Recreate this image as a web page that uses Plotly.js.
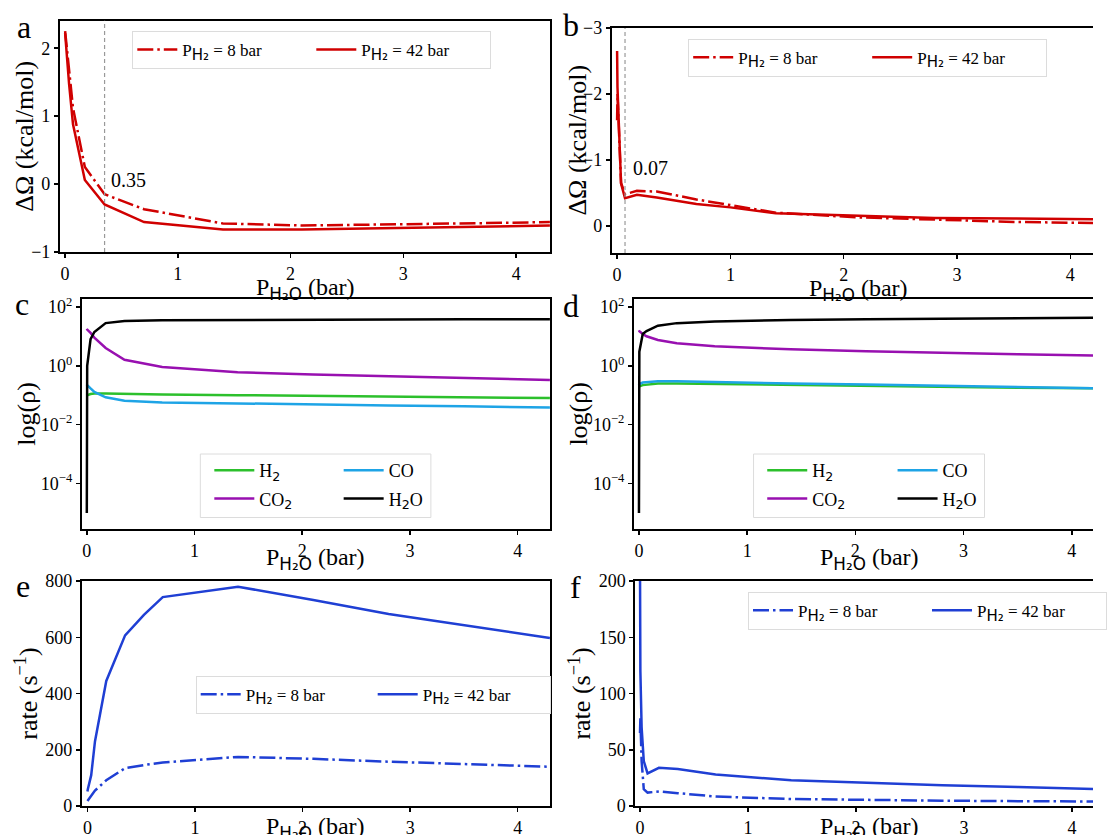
<!DOCTYPE html>
<html>
<head>
<meta charset="utf-8">
<script src="https://cdn.plot.ly/plotly-3.0.1.min.js"></script>
<style>html,body{margin:0;padding:0;background:#fff;}#chart{width:1107px;height:835px;}</style>
</head>
<body>
<div id="chart"></div>
<script>
// ---------- data ----------
// panel a : ΔΩ vs P_H2O
const pH2O_a = [0, 0.035, 0.07, 0.175, 0.35, 0.7, 1.4, 2.1, 2.8, 3.5, 4.3];
const dOmega_a_8bar = [2.25, 1.65, 1.12, 0.25, -0.15, -0.37, -0.58, -0.61, -0.60, -0.58, -0.56];
const dOmega_a_42bar = [2.22, 1.48, 0.88, 0.06, -0.30, -0.56, -0.67, -0.67, -0.65, -0.63, -0.61];
// panel b
const pH2O_b = [0, 0.0035, 0.035, 0.07, 0.175, 0.35, 0.7, 1.0, 1.4, 2.1, 2.8, 3.5, 4.3];
const dOmega_b_8bar = [-1.6, -2.0, -0.65, -0.48, -0.53, -0.52, -0.40, -0.31, -0.20, -0.13, -0.09, -0.06, -0.04];
const dOmega_b_42bar = [-2.65, -2.1, -0.64, -0.42, -0.47, -0.43, -0.33, -0.28, -0.19, -0.15, -0.12, -0.11, -0.10];
// panels c, d : densities
const pH2O_cd = [0, 0.0035, 0.035, 0.07, 0.175, 0.35, 0.7, 1.4, 2.1, 2.8, 3.5, 4.3];
const rho_c_H2 = [0.10, 0.10, 0.11, 0.115, 0.115, 0.11, 0.105, 0.10, 0.095, 0.09, 0.085, 0.08];
const rho_c_CO2 = [18, 17, 13, 9, 4.0, 1.6, 0.9, 0.6, 0.5, 0.43, 0.38, 0.33];
const rho_c_CO = [0.23, 0.22, 0.17, 0.13, 0.085, 0.065, 0.057, 0.052, 0.049, 0.045, 0.042, 0.038];
const rho_c_H2O = [1e-5, 1.0, 8, 14, 28, 33, 35, 36, 37, 37, 38, 38];
const rho_d_H2 = [0.19, 0.20, 0.22, 0.23, 0.25, 0.25, 0.24, 0.22, 0.21, 0.19, 0.18, 0.17];
const rho_d_CO2 = [16, 15, 12, 10, 7.5, 5.8, 4.6, 3.6, 3.1, 2.7, 2.45, 2.2];
const rho_d_CO = [0.22, 0.24, 0.27, 0.28, 0.30, 0.30, 0.28, 0.25, 0.23, 0.21, 0.19, 0.17];
const rho_d_H2O = [1e-5, 3, 12, 15, 23, 28, 32, 36, 38, 40, 42, 43];
// panel e : rate
const pH2O_e = [0, 0.0035, 0.035, 0.07, 0.175, 0.35, 0.525, 0.7, 1.4, 2.1, 2.8, 3.5, 4.3];
const rate_e_8bar = [18, 20, 40, 55, 92, 135, 146, 155, 175, 168, 158, 150, 140];
const rate_e_42bar = [52, 60, 110, 230, 445, 607, 680, 743, 780, 733, 683, 644, 598];
// panel f
const pH2O_f = [0, 0.0035, 0.015, 0.035, 0.07, 0.175, 0.35, 0.7, 1.4, 2.1, 2.8, 3.5, 4.3];
const rate_f_8bar = [65, 78, 40, 15, 12, 13, 11.5, 8.5, 6.3, 5.3, 4.8, 4.4, 4.1];
const rate_f_42bar = [215, 120, 70, 40, 29, 34, 33, 28, 23, 20.5, 18.5, 17, 15];

const xTicks = [0, 1, 2, 3, 4];
const logTickVals = [1e-4, 1e-2, 1, 100];
const logTickText = ['10<sup>−4</sup>', '10<sup>−2</sup>', '10<sup>0</sup>', '10<sup>2</sup>'];
const thresholdA = 0.35, thresholdB = 0.07;
const panelLetters = ['a', 'b', 'c', 'd', 'e', 'f'];
const yTitleA = 'ΔΩ (kcal/mol)', yTitleC = 'log(ρ)', yTitleE = 'rate (s<sup>−1</sup>)';

// ---------- style ----------
const SERIF = 'Liberation Serif';
const SANS2 = '<sub><span style="font-family:DejaVu Sans">2</span></sub>';
const SUBH2 = '<sub><span style="font-family:DejaVu Sans;font-size:15px">H₂</span></sub>';
const SUBH2O = '<sub><span style="font-family:DejaVu Sans">H₂O</span></sub>';
const RED = '#d00000', BLUE = '#1f3fd4';
const DASHDOT = '16px,4px,2.5px,4px';
const LW = 2.5;
const xTitle = 'P' + SUBH2O + ' (bar)';
const lbl8 = 'P' + SUBH2 + ' = 8 bar';
const lbl42 = 'P' + SUBH2 + ' = 42 bar';
const W = 1107, H = 835;

function xax(domain, range, anchor) {
  return {domain: domain, range: range, anchor: anchor, tickvals: xTicks, ticks: 'outside', ticklen: 4, tickwidth: 1.5,
    tickcolor: '#000', showline: true, linecolor: '#000', linewidth: 2, mirror: true, showgrid: false, zeroline: false,
    tickfont: {family: SERIF, size: 18, color: '#000'}};
}
function yax(domain, range, anchor, mirror, extra) {
  return Object.assign({domain: domain, range: range, anchor: anchor, ticks: 'outside', ticklen: 4, tickwidth: 1.5,
    tickcolor: '#000', showline: true, linecolor: '#000', linewidth: 2, mirror: mirror, showgrid: false, zeroline: false,
    tickfont: {family: SERIF, size: 18, color: '#000'}}, extra || {});
}
function line(x, y, xa, ya, name, color, dash, legend, group) {
  return {type: 'scatter', mode: 'lines', x: x, y: y, xaxis: xa, yaxis: ya, name: name, legend: legend,
    legendgroup: group, line: {color: color, width: LW, dash: dash || 'solid'}};
}

const nH2 = 'H' + SANS2, nCO2 = 'CO' + SANS2, nCO = 'CO', nH2O = 'H' + SANS2 + 'O';
const traces = [
  line(pH2O_a, dOmega_a_8bar, 'x', 'y', lbl8, RED, DASHDOT, 'legend', 'a1'),
  line(pH2O_a, dOmega_a_42bar, 'x', 'y', lbl42, RED, 'solid', 'legend', 'a2'),
  line(pH2O_b, dOmega_b_8bar, 'x2', 'y2', lbl8, RED, DASHDOT, 'legend2', 'b1'),
  line(pH2O_b, dOmega_b_42bar, 'x2', 'y2', lbl42, RED, 'solid', 'legend2', 'b2'),
  line(pH2O_cd, rho_c_H2, 'x3', 'y3', nH2, '#2cc02c', null, 'legend3', 'c1'),
  line(pH2O_cd, rho_c_CO2, 'x3', 'y3', nCO2, '#9810b0', null, 'legend3', 'c2'),
  line(pH2O_cd, rho_c_CO, 'x3', 'y3', nCO, '#1ea4e6', null, 'legend4', 'c3'),
  line(pH2O_cd, rho_c_H2O, 'x3', 'y3', nH2O, '#000000', null, 'legend4', 'c4'),
  line(pH2O_cd, rho_d_H2, 'x4', 'y4', nH2, '#2cc02c', null, 'legend5', 'd1'),
  line(pH2O_cd, rho_d_CO2, 'x4', 'y4', nCO2, '#9810b0', null, 'legend5', 'd2'),
  line(pH2O_cd, rho_d_CO, 'x4', 'y4', nCO, '#1ea4e6', null, 'legend6', 'd3'),
  line(pH2O_cd, rho_d_H2O, 'x4', 'y4', nH2O, '#000000', null, 'legend6', 'd4'),
  line(pH2O_e, rate_e_8bar, 'x5', 'y5', lbl8, BLUE, DASHDOT, 'legend7', 'e1'),
  line(pH2O_e, rate_e_42bar, 'x5', 'y5', lbl42, BLUE, 'solid', 'legend7', 'e2'),
  line(pH2O_f, rate_f_8bar, 'x6', 'y6', lbl8, BLUE, DASHDOT, 'legend8', 'f1'),
  line(pH2O_f, rate_f_42bar, 'x6', 'y6', lbl42, BLUE, 'solid', 'legend8', 'f2')
];

function hLegend(x, y, ew) {
  return {x: x / W, y: 1 - y / H, xanchor: 'left', yanchor: 'top', orientation: 'h', bgcolor: '#fff', bordercolor: '#dcdcdc',
    borderwidth: 1, itemwidth: 40, entrywidth: ew, font: {family: SERIF, size: 17, color: '#000'}};
}
function vLegend(x, y) {
  return {x: x / W, y: 1 - y / H, xanchor: 'left', yanchor: 'top', orientation: 'v', bgcolor: 'rgba(0,0,0,0)', borderwidth: 0,
    itemwidth: 40, traceorder: 'grouped', tracegroupgap: 2, font: {family: SERIF, size: 18, color: '#000'}};
}
function txt(t, x, y, size, angle) {
  return {text: t, xref: 'paper', yref: 'paper', x: x / W, y: 1 - y / H, xanchor: 'center', yanchor: 'middle',
    showarrow: false, textangle: angle || 0, font: {family: SERIF, size: size, color: '#000'}};
}

const rowA = [1 - 252 / H, 1 - 20.7 / H];
const rowB = [1 - 252.9 / H, 1 - 27.9 / H];
const rowC = [1 - 528.9 / H, 1 - 298.6 / H];
const rowE = [1 - 806.1 / H, 1 - 581.1 / H];

const layout = {
  width: W, height: H, margin: {l: 0, r: 0, t: 0, b: 0}, paper_bgcolor: '#fff', plot_bgcolor: '#fff',
  font: {family: SERIF, color: '#000'},
  xaxis: xax([60.7 / W, 557 / W], [-0.046, 4.3], 'y'),
  yaxis: yax(rowA, [-1, 2.405], 'x', true, {tickvals: [-1, 0, 1, 2]}),
  xaxis2: xax([619.6 / W, 1], [-0.047, 4.2], 'y2'),
  yaxis2: yax(rowB, [0.41, -3.0], 'x2', false, {tickvals: [-3, -2, -1, 0]}),
  xaxis3: xax([82.9 / W, 557 / W], [-0.046, 4.3], 'y3'),
  yaxis3: yax(rowC, [-5.54, 2.28], 'x3', true, {type: 'log', tickvals: logTickVals, ticktext: logTickText}),
  xaxis4: xax([642.1 / W, 1], [-0.046, 4.196], 'y4'),
  yaxis4: yax(rowC, [-5.54, 2.28], 'x4', false, {type: 'log', tickvals: logTickVals, ticktext: logTickText}),
  xaxis5: xax([82.9 / W, 557 / W], [-0.052, 4.3], 'y5'),
  yaxis5: yax(rowE, [0, 800], 'x5', true, {tickvals: [0, 200, 400, 600, 800]}),
  xaxis6: xax([643.6 / W, 1], [-0.042, 4.194], 'y6'),
  yaxis6: yax(rowE, [0, 200], 'x6', false, {tickvals: [0, 50, 100, 150, 200]}),
  legend: hLegend(134, 31, 124),
  legend2: hLegend(697, 38.6, 124),
  legend3: vLegend(212, 452),
  legend4: vLegend(343, 452),
  legend5: vLegend(772, 452),
  legend6: vLegend(904, 452),
  legend7: hLegend(198.2, 675.7, 122),
  legend8: hLegend(757.9, 591.8, 124),
  shapes: [
    {type: 'line', xref: 'x', yref: 'y domain', x0: thresholdA, x1: thresholdA, y0: 0, y1: 1, line: {color: '#999', width: 1.2, dash: '4px,3px'}},
    {type: 'line', xref: 'x2', yref: 'y2 domain', x0: thresholdB, x1: thresholdB, y0: 0, y1: 1, line: {color: '#999', width: 1.2, dash: '4px,3px'}},
    {type: 'rect', xref: 'paper', yref: 'paper', x0: 202.9 / W, x1: 436.4 / W, y0: 1 - 517.5 / H, y1: 1 - 454 / H, line: {color: '#dcdcdc', width: 1}, fillcolor: '#fff', layer: 'above'},
    {type: 'rect', xref: 'paper', yref: 'paper', x0: 763.2 / W, x1: 997.1 / W, y0: 1 - 517.5 / H, y1: 1 - 454 / H, line: {color: '#dcdcdc', width: 1}, fillcolor: '#fff', layer: 'above'}
  ],
  annotations: [
    txt(panelLetters[0], 24, 27, 32), txt(panelLetters[1], 578, 25, 32), txt(panelLetters[2], 22, 304, 32),
    txt(panelLetters[3], 578, 306, 32), txt(panelLetters[4], 23, 586, 32), txt(panelLetters[5], 583, 587, 32),
    // axis titles
    txt(xTitle, 309, 289, 24), txt(xTitle, 870, 290, 24),
    txt(xTitle, 320, 559, 24), txt(xTitle, 881, 559, 24),
    txt(xTitle, 320, 828, 24), txt(xTitle, 881, 828, 24),
    txt(yTitleA, 25, 136, 26, -90), txt(yTitleA, 584, 140, 26, -90),
    txt(yTitleC, 26, 414, 26, -90), txt(yTitleC, 585, 414, 26, -90),
    txt(yTitleE, 26, 694, 26, -90), txt(yTitleE, 587, 694, 26, -90),
    {text: String(thresholdA), xref: 'x', yref: 'y', x: 0.39, y: 0.06, xanchor: 'left', yanchor: 'middle', showarrow: false, font: {family: SERIF, size: 20, color: '#000'}},
    {text: String(thresholdB), xref: 'x2', yref: 'y2', x: 0.12, y: -0.88, xanchor: 'left', yanchor: 'middle', showarrow: false, font: {family: SERIF, size: 20, color: '#000'}}
  ],
  showlegend: true
};

Plotly.newPlot('chart', traces, layout, {displayModeBar: false, staticPlot: true});
</script>
</body>
</html>
